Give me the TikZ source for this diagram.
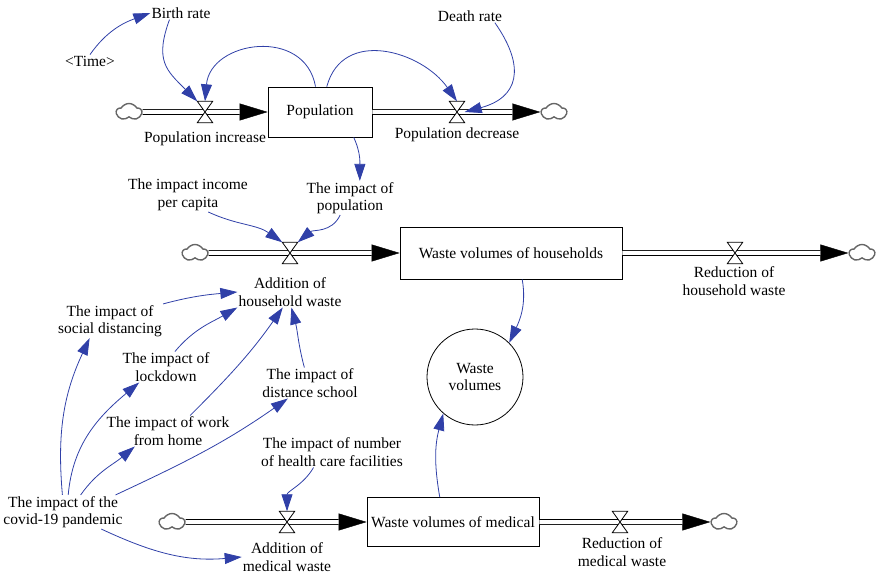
\documentclass[tikz,border=0pt]{standalone}
\usepackage{fontspec}
\setmainfont{Liberation Serif}
\usetikzlibrary{arrows.meta,shapes.symbols}
\definecolor{linkblue}{RGB}{48,64,168}

\begin{document}
\begin{tikzpicture}[
            x = 1pt, y = 1pt,
            every node/.style={font=\fontsize{15.5}{17.5}\selectfont, align=center, inner sep=1pt},
            stock/.style={draw, line width=.8pt, minimum height=50pt},
            aux/.style={circle, draw, line width=.8pt, minimum size=96pt},
            cloudy/.style={cloud, cloud puffs=5, cloud puff arc=120, aspect=1.5, draw=gray!80!black, line width=1.4pt, fill=white, minimum width=25pt, minimum height=17pt, inner sep=0pt},
            valve/.style={minimum width=15pt, minimum height=21pt, inner sep=0pt},
            pipe/.style={double distance=4pt, line width=.8pt, shorten >=28pt},
            flowtip/.style={line width=.4pt, -{Triangle[length=28pt,width=17pt]}},
            link/.style={linkblue, line width=.8pt, -{Triangle[length=17pt,width=11pt]}},
            ]
        \useasboundingbox (0,0) rectangle (876,574);

        % stocks
        \node[stock, minimum width=104pt] (pop) at (320,462) {Population};
        \node[stock, minimum width=222pt, minimum height=52pt] (hh) at (511,321) {Waste volumes of households};
        \node[stock, minimum width=172pt, minimum height=49pt] (med) at (453,52) {Waste volumes of medical};
        \node[aux] (wv) at (475,197) {Waste\\volumes};

        % clouds and valves
        \node[cloudy] (c1) at (129,462) {};
        \node[cloudy] (c2) at (554,462) {};
        \node[cloudy] (c3) at (195,321) {};
        \node[cloudy] (c4) at (862,321) {};
        \node[cloudy] (c5) at (172,52) {};
        \node[cloudy] (c6) at (724,52) {};
        \node[valve] (v1) at (205,462) {};
        \node[valve] (v2) at (457,462) {};
        \node[valve] (v3) at (290,321) {};
        \node[valve] (v4) at (735,321) {};
        \node[valve] (v5) at (287,52) {};
        \node[valve] (v6) at (620,52) {};

        % flow names
        \node (pinc) at (205,435) {Population increase};
        \node (pdec) at (457,439) {Population decrease};
        \node (ahh) at (290,282) {Addition of\\household waste};
        \node (rhh) at (734,293) {Reduction of\\household waste};
        \node (amw) at (287,17) {Addition of\\medical waste};
        \node (rmw) at (622,22) {Reduction of\\medical waste};

        % auxiliaries
        \node (time) at (90,513) {\textless Time\textgreater};
        \node (brate) at (181,561) {Birth rate};
        \node (drate) at (470,558) {Death rate};
        \node (inc) at (188,379) {The impact income\\per capita};
        \node (ipop) at (350,376) {The impact of\\population};
        \node (soc) at (110,253) {The impact of\\social distancing};
        \node (lock) at (166,207) {The impact of\\lockdown};
        \node (wfh) at (168,143) {The impact of work\\from home};
        \node (dsch) at (310,191) {The impact of\\distance school};
        \node (hcf) at (332,122) {The impact of number\\of health care facilities};
        \node (covid) at (63,62) {The impact of the\\covid-19 pandemic};

        % pipes
        \foreach \a/\b in {c1/pop, pop/c2, c3/hh, hh/c4, c5/med, med/c6} {
            \draw[flowtip] (\a) -- (\b);
            \draw[pipe] (\a) -- (\b);
        }
        \foreach \v in {v1,v2,v3,v4,v5,v6}
            \filldraw[fill=white, line width=.8pt] (\v.north west) -- (\v.north east) -- (\v.south west) -- (\v.south east) -- cycle;

        % links
        \draw[link] (time.north) to[out=55,in=200] (brate.west);
        \draw[link] (brate.-150) to[out=-110,in=135,looseness=1.3] (v1.north west);
        \draw[link] (pop.100) to[out=100,in=85,looseness=1.4] (v1.north);
        \draw[link] (pop.75) to[out=75,in=125,looseness=1.2] (v2.north);
        \draw[link] (drate.-15) to[out=-55,in=15,looseness=1.5] (v2.east);
        \draw[link] (pop.-37) to[out=-65,in=90] (ipop.60);
        \draw[link] (inc.-40) to[out=-25,in=145] (v3.north west);
        \draw[link] (ipop.-120) to[out=-115,in=40] (v3.north east);
        \draw[link] (hh.-67) to[out=-80,in=65] (wv.45);
        \draw[link] (med.118) to[out=100,in=-105] (wv.229);
        \draw[link] (soc.north east) to[out=15,in=185] (ahh.west);
        \draw[link] (lock.60) to[out=50,in=-150] (ahh.south west);
        \draw[link] (wfh.35) to[out=45,in=-125] (ahh.-115);
        \draw[link] (dsch.110) to[out=105,in=-75] (ahh.-85);
        \draw[link] (covid.92) to[out=95,in=-115] (soc.-140);
        \draw[link] (covid.73) to[out=85,in=-140] (lock.-150);
        \draw[link] (covid.44) to[out=55,in=-140] (wfh.-155);
        \draw[link] (covid.18) to[out=25,in=-145] (dsch.-145);
        \draw[link] (covid.-24) to[out=-25,in=185] (amw.west);
        \draw[link] (hcf.-140) to[out=-120,in=90] (v5.north);
    \end{tikzpicture}
\end{document}
